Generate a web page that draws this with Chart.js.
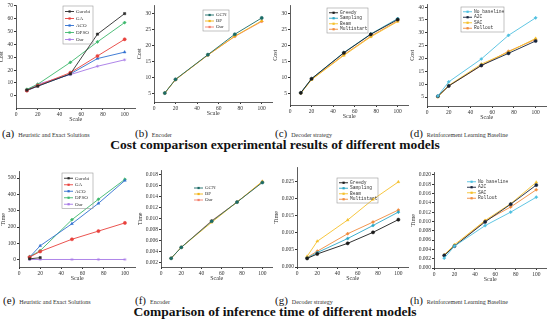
<!DOCTYPE html>
<html>
<head>
<meta charset="utf-8">
<script src="https://cdn.jsdelivr.net/npm/chart.js@4/dist/chart.umd.min.js"></script>
<style>
  html, body { margin:0; padding:0; background:#fff; }
  body { width:550px; height:321px; position:relative; overflow:hidden; font-family:'Liberation Serif', serif; }
  canvas { position:absolute; }
  .cap { position:absolute; white-space:nowrap; color:#111; }
  .cap b { font-size:11px; font-weight:normal; }
  .cap span { font-size:6px; color:#333; }
  .ttl { position:absolute; left:0; width:550px; text-align:center; font-weight:bold; font-size:13.5px; color:#111; }
</style>
</head>
<body>
<div class="cap" style="left:2px;top:123px"><b>(a)</b> <span>Heuristic and Exact Solutions</span></div>
<div class="cap" style="left:135px;top:123px"><b>(b)</b> <span>Encoder</span></div>
<div class="cap" style="left:275px;top:123px"><b>(c)</b> <span>Decoder strategy</span></div>
<div class="cap" style="left:410px;top:123px"><b>(d)</b> <span>Reinforcement Learning Baseline</span></div>
<div class="ttl" style="top:137px">Cost comparison experimental results of different models</div>
<div class="cap" style="left:3px;top:290px"><b>(e)</b> <span>Heuristic and Exact Solutions</span></div>
<div class="cap" style="left:135px;top:290px"><b>(f)</b> <span>Encoder</span></div>
<div class="cap" style="left:275px;top:290px"><b>(g)</b> <span>Decoder strategy</span></div>
<div class="cap" style="left:410px;top:290px"><b>(h)</b> <span>Reinforcement Learning Baseline</span></div>
<div class="ttl" style="top:304px">Comparison of inference time of different models</div>
<script>
// problem sizes (x axis)
var scaleX = [10, 20, 50, 75, 100];

// cost - heuristic and exact
var heurNames = ['Gurobi', 'GA', 'ACO', 'DPSO', 'Our'];
var costGurobi = [4.5, 7.5, 17, 48, 64];
var costGA = [4, 8, 18, 31, 44];
var costACO = [4, 7.5, 17, 29, 34];
var costDPSO = [5, 9, 26, 42, 57];
var costOur = [4.5, 9, 16.5, 23, 28];

// cost - encoder
var encNames = ['GCN', 'BP', 'Our'];
var costGCN = [5.2, 9.5, 17.2, 23.6, 28.7];
var costBP = [5.2, 9.4, 17.1, 23.0, 27.8];
var costEncOur = [5.2, 9.4, 17.1, 22.9, 27.6];

// cost - decoder
var decNames = ['Greedy', 'Sampling', 'Beam', 'Multistart'];
var costGreedy = [5.3, 9.7, 17.8, 23.6, 28.2];
var costSampling = [5.3, 9.7, 17.9, 23.7, 28.5];
var costBeam = [5.2, 9.4, 17.0, 22.8, 27.6];
var costMulti = [5.2, 9.5, 17.2, 23.0, 27.8];

// cost - rl baseline
var rlNames = ['No baseline', 'A2C', 'SAC', 'Rollout'];
var costNoBase = [5.4, 10.9, 19.8, 29, 35.8];
var costA2C = [5.3, 9.3, 17.3, 22, 26.8];
var costSAC = [5, 9.5, 17.8, 22.5, 27.8];
var costRollout = [5.2, 9.3, 17.2, 22.8, 27.4];

// time - heuristic and exact (Gurobi only up to 20)
var timeGurobi = [5, 12, null, null, null];
var timeGA = [15, 50, 125, 175, 225];
var timeACO = [15, 85, 220, 345, 485];
var timeDPSO = [18, 55, 245, 370, 492];
var timeOur = [1, 1, 1, 1, 1];

// time - encoder
var timeGCN = [0.0027, 0.0047, 0.0095, 0.0130, 0.0166];
var timeBP = [0.0027, 0.0047, 0.0093, 0.0130, 0.0168];
var timeEncOur = [0.0027, 0.0047, 0.0096, 0.0130, 0.0167];

// time - decoder
var timeGreedy = [0.0025, 0.0038, 0.0069, 0.0101, 0.0138];
var timeSampling = [0.0026, 0.0042, 0.0083, 0.0121, 0.0160];
var timeBeam = [0.0031, 0.0075, 0.0137, 0.0197, 0.0248];
var timeMulti = [0.0028, 0.0046, 0.0097, 0.0131, 0.0166];

// time - rl baseline
var timeNoBase = [0.0021, 0.0047, 0.0091, 0.0120, 0.0152];
var timeA2C = [0.0027, 0.0047, 0.0099, 0.0137, 0.0178];
var timeSAC = [0.0028, 0.0050, 0.0102, 0.0138, 0.0184];
var timeRollout = [0.0027, 0.0047, 0.0101, 0.0131, 0.0168];

var heurCol = ['#2b2b2b', '#e8413c', '#2f6fd0', '#3db86c', '#a678e6'];
var heurPt = ['rect', 'circle', 'triangle', 'rectRot', 'star'];
var encCol = ['#1b6b66', '#f2b417', '#f3806d'];
var encPt = ['circle', 'triangle', 'rectRot'];
var decCol = ['#1a1a1a', '#2ba6c6', '#f5c02a', '#f08a3c'];
var decPt = ['circle', 'rectRot', 'triangle', 'rectRot'];
var rlCol = ['#4fc0e0', '#15233a', '#f5c02a', '#f08a3c'];
var rlPt = ['rectRot', 'circle', 'triangle', 'rectRot'];

var serif = "'Liberation Serif', serif";
var mono = "'Liberation Mono', monospace";

// legend drawn inside the plot, like the origin style boxes
var inLegend = {
  id: 'inLegend',
  afterDatasetsDraw: function(chart, args, o) {
    if (!o || o.x == null) return;
    var ctx = chart.ctx;
    var ds = chart.data.datasets;
    var rowH = o.rowH || 6;
    var x = o.x - o.ox, y = o.y - o.oy;
    ctx.save();
    if (o.border) {
      ctx.strokeStyle = '#999';
      ctx.lineWidth = 0.6;
      ctx.strokeRect(x, y, o.w, ds.length * rowH + 3);
    }
    ctx.font = (o.size || 5) + 'px ' + (o.mono ? mono : serif);
    ctx.textBaseline = 'middle';
    for (var i = 0; i < ds.length; i++) {
      var cy = y + 2 + rowH / 2 + i * rowH;
      ctx.strokeStyle = ds[i].borderColor;
      ctx.lineWidth = 0.9;
      ctx.beginPath(); ctx.moveTo(x + 2, cy); ctx.lineTo(x + 11, cy); ctx.stroke();
      ctx.fillStyle = ds[i].borderColor;
      ctx.fillRect(x + 5.5, cy - 1.1, 2.2, 2.2);
      ctx.fillStyle = '#333';
      ctx.fillText(ds[i].label, x + 13, cy);
    }
    ctx.restore();
  }
};

function panel(p) {
  var yw = p.yw || 18;
  var cl = p.area[0] - yw, ct = p.area[1] - 4;
  var cw = p.area[2] - cl + 2, ch = p.area[3] - ct + 15;
  var cv = document.createElement('canvas');
  cv.width = cw; cv.height = ch;
  cv.style.left = cl + 'px'; cv.style.top = ct + 'px';
  cv.style.width = cw + 'px'; cv.style.height = ch + 'px';
  document.body.appendChild(cv);
  var datasets = p.series.map(function(d, i) {
    return {
      label: p.names[i], data: d,
      borderColor: p.cols[i], backgroundColor: p.cols[i],
      borderWidth: 0.9, pointStyle: p.pts[i], pointRadius: 1.6,
      pointBorderWidth: 0.5, tension: 0, spanGaps: false
    };
  });
  var tickFont = { family: serif, size: 5.5 };
  new Chart(cv, {
    type: 'line',
    data: { labels: scaleX, datasets: datasets },
    plugins: [inLegend],
    options: {
      responsive: false, animation: false,
      layout: { padding: { top: 4, right: 2, left: 0, bottom: 0 } },
      plugins: {
        legend: { display: false }, tooltip: { enabled: false },
        inLegend: Object.assign({ ox: cl, oy: ct }, p.legend)
      },
      scales: {
        x: {
          type: 'linear', min: 0, max: 110,
          ticks: { stepSize: 20, includeBounds: false, font: tickFont, color: '#333', padding: 1, maxRotation: 0 },
          grid: { drawOnChartArea: false, drawTicks: true, tickLength: 2, color: '#333' },
          border: { display: true, color: '#333', width: 0.8 },
          title: { display: true, text: 'Scale', font: { family: serif, size: 6 }, color: '#333', padding: 0 },
          afterFit: function(s) { s.height = 15; }
        },
        y: {
          min: p.yMin, max: p.yMax,
          ticks: { stepSize: p.yStep, includeBounds: false, autoSkip: false, font: tickFont, color: '#333', padding: 1,
                   callback: function(v) { return p.dec ? v.toFixed(p.dec) : v; } },
          grid: { drawOnChartArea: false, drawTicks: true, tickLength: 2, color: '#333' },
          border: { display: true, color: '#333', width: 0.8 },
          title: { display: true, text: p.yTitle, font: { family: serif, size: 6 }, color: '#333', padding: 0 },
          afterFit: function(s) { s.width = yw; }
        }
      }
    }
  });
}

panel({ area: [16, 5, 138, 108], yMin: -9.5, yMax: 70.3, yStep: 10, yTitle: 'Cost',
  names: heurNames, cols: heurCol, pts: heurPt,
  series: [costGurobi, costGA, costACO, costDPSO, costOur],
  legend: { x: 63, y: 6, w: 30, border: true, rowH: 7 } });
panel({ area: [154, 5, 275, 102], yMin: 2.4, yMax: 32.6, yStep: 5, yTitle: 'Cost',
  names: encNames, cols: encCol, pts: encPt,
  series: [costGCN, costBP, costEncOur],
  legend: { x: 203, y: 10, w: 26, border: true, rowH: 6 } });
panel({ area: [290, 5, 411, 105], yMin: 1.5, yMax: 32.6, yStep: 5, yTitle: 'Cost',
  names: decNames, cols: decCol, pts: decPt,
  series: [costGreedy, costSampling, costBeam, costMulti],
  legend: { x: 327, y: 8, w: 41, border: true, mono: true, size: 4.6, rowH: 5.5 } });
panel({ area: [427, 4, 549, 106], yMin: 1.5, yMax: 41, yStep: 5, yTitle: 'Cost',
  names: rlNames, cols: rlCol, pts: rlPt,
  series: [costNoBase, costA2C, costSAC, costRollout],
  legend: { x: 461, y: 7, w: 43, border: true, mono: true, size: 4.6, rowH: 5.5 } });

panel({ area: [19, 171, 138, 267], yMin: -45, yMax: 540, yStep: 100, yTitle: 'Time', yw: 19,
  names: heurNames, cols: heurCol, pts: heurPt,
  series: [timeGurobi, timeGA, timeACO, timeDPSO, timeOur],
  legend: { x: 62, y: 173, w: 31, border: true, rowH: 6.5 } });
panel({ area: [161, 170, 275, 267], yMin: 0.0011, yMax: 0.0188, yStep: 0.002, dec: 3, yTitle: 'Time', yw: 24,
  names: encNames, cols: encCol, pts: encPt,
  series: [timeGCN, timeBP, timeEncOur],
  legend: { x: 192, y: 183, w: 24, border: false, rowH: 6 } });
panel({ area: [297, 167, 411, 267], yMin: 0, yMax: 0.029, yStep: 0.005, dec: 3, yTitle: 'Time', yw: 24,
  names: decNames, cols: decCol, pts: decPt,
  series: [timeGreedy, timeSampling, timeBeam, timeMulti],
  legend: { x: 337, y: 178, w: 41, border: true, mono: true, size: 4.6, rowH: 5.5 } });
panel({ area: [434, 172, 549, 268], yMin: 0, yMax: 0.0205, yStep: 0.002, dec: 3, yTitle: 'Time', yw: 24,
  names: rlNames, cols: rlCol, pts: rlPt,
  series: [timeNoBase, timeA2C, timeSAC, timeRollout],
  legend: { x: 465, y: 177, w: 43, border: false, mono: true, size: 4.6, rowH: 5.5 } });
</script>
</body>
</html>
